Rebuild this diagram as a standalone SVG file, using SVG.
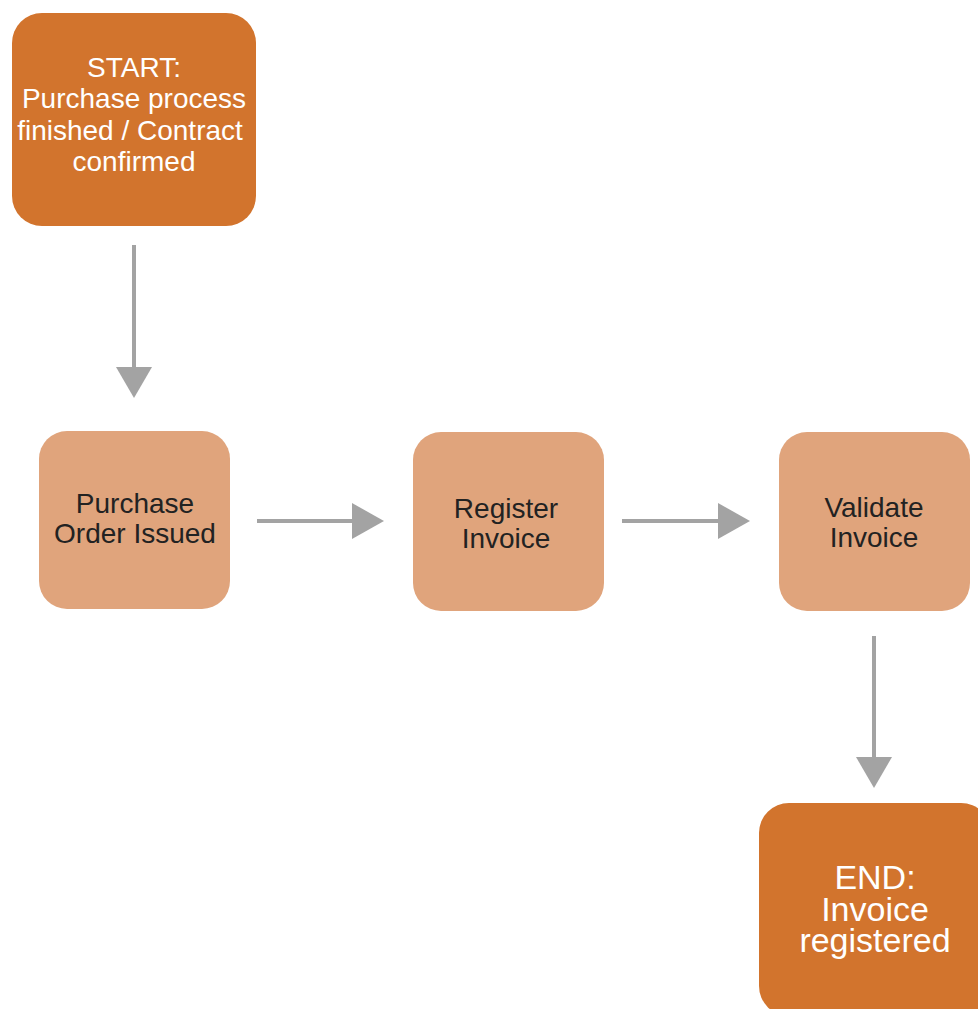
<svg xmlns="http://www.w3.org/2000/svg" width="978" height="1009" viewBox="0 0 978 1009">
<style>
.dark{fill:#D2742D}
.light{fill:#E0A47C}
.wt{fill:#FFFFFF;font-family:"Liberation Sans",Arial,sans-serif;font-size:28px;text-anchor:middle}
.bt{fill:#222222;font-family:"Liberation Sans",Arial,sans-serif;font-size:28px;text-anchor:middle}
.et{fill:#FFFFFF;font-family:"Liberation Sans",Arial,sans-serif;font-size:34px;text-anchor:middle}
.ln{stroke:#A3A3A3;stroke-width:4;fill:none}
.hd{fill:#A3A3A3}
</style>
<rect width="978" height="1009" fill="#FFFFFF"/>
<g id="connectors">
<line class="ln" x1="134" y1="245" x2="134" y2="370"/>
<polygon class="hd" points="116,367 152,367 134,398"/>
<line class="ln" x1="257" y1="521" x2="355" y2="521"/>
<polygon class="hd" points="352,503 352,539 384,521"/>
<line class="ln" x1="622" y1="521" x2="721" y2="521"/>
<polygon class="hd" points="718,503 718,539 750,521"/>
<line class="ln" x1="874" y1="636" x2="874" y2="760"/>
<polygon class="hd" points="856,757 892,757 874,788"/>
</g>
<g id="start">
<rect class="dark" x="12" y="13" width="244" height="213" rx="30"/>
<text class="wt" x="134" y="77">START:</text>
<text class="wt" x="134" y="108">Purchase process</text>
<text class="wt" x="130" y="140">finished / Contract</text>
<text class="wt" x="134" y="171">confirmed</text>
</g>
<g id="po">
<rect class="light" x="39" y="431" width="191" height="178" rx="28"/>
<text class="bt" x="135" y="513">Purchase</text>
<text class="bt" x="135" y="543">Order Issued</text>
</g>
<g id="register">
<rect class="light" x="413" y="432" width="191" height="179" rx="28"/>
<text class="bt" x="506" y="518">Register</text>
<text class="bt" x="506" y="548">Invoice</text>
</g>
<g id="validate">
<rect class="light" x="779" y="432" width="191" height="179" rx="28"/>
<text class="bt" x="874" y="517">Validate</text>
<text class="bt" x="874" y="547">Invoice</text>
</g>
<g id="end">
<rect class="dark" x="759" y="803" width="232" height="213" rx="30"/>
<text class="et" x="875" y="889">END:</text>
<text class="et" x="875" y="921">Invoice</text>
<text class="et" x="875" y="952">registered</text>
</g>
</svg>
